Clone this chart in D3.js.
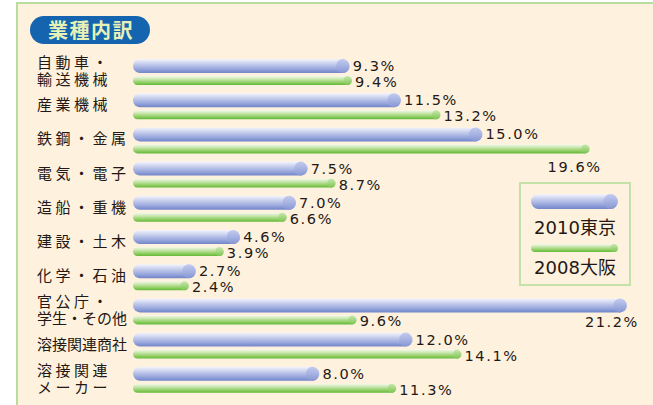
<!DOCTYPE html>
<html>
<head>
<meta charset="utf-8">
<script src="https://cdn.jsdelivr.net/npm/d3@7"></script>
<style>
  body { margin: 0; background: #fff; }
  svg { display: block; }
</style>
</head>
<body>
<div id="chart"></div>
<script>
// データ
const title = "業種内訳";
const categories = ["自動車・\n輸送機械", "産業機械", "鉄鋼・金属", "電気・電子", "造船・重機",
  "建設・土木", "化学・石油", "官公庁・\n学生・その他", "溶接関連商社", "溶接関連\nメーカー"];
const tokyo2010 = [9.3, 11.5, 15.0, 7.5, 7.0, 4.6, 2.7, 21.2, 12.0, 8.0];
const osaka2008 = [9.4, 13.2, 19.6, 8.7, 6.6, 3.9, 2.4, 9.6, 14.1, 11.3];
const seriesNames = ["2010東京", "2008大阪"];

const width = 653, height = 405;
const svg = d3.select("#chart").append("svg")
  .attr("width", width)
  .attr("height", height);

const defs = svg.append("defs");
function vgrad(id, stops) {
  const g = defs.append("linearGradient").attr("id", id)
    .attr("x1", 0).attr("y1", 0).attr("x2", 0).attr("y2", 1);
  stops.forEach(s => g.append("stop").attr("offset", s[0]).attr("stop-color", s[1]));
}
vgrad("blueBar", [[0, "#f4f5fc"], [0.25, "#d3d9f1"], [0.7, "#9aa8dd"], [1, "#7085c9"]]);
vgrad("greenBar", [[0, "#f3f9ea"], [0.35, "#c8e6ad"], [0.75, "#8ccc5e"], [1, "#62b83a"]]);
vgrad("blueCap", [[0, "#c3cbee"], [0.5, "#a6b2e2"], [1, "#8696d3"]]);
vgrad("greenCap", [[0, "#c9e8ae"], [1, "#7cc552"]]);

// 背景パネル
svg.append("rect")
  .attr("x", 17).attr("y", 3)
  .attr("width", width).attr("height", height)
  .attr("fill", "#fef1dd")
  .attr("stroke", "#b9dd9d")
  .attr("stroke-width", 2);

// タイトル
svg.append("rect")
  .attr("x", 30).attr("y", 16)
  .attr("width", 120).attr("height", 28)
  .attr("rx", 14)
  .attr("fill", "#1464b0");
svg.append("text")
  .attr("x", 91).attr("y", 37.5)
  .attr("text-anchor", "middle")
  .attr("font-family", "Noto Sans CJK JP")
  .attr("font-weight", "bold")
  .attr("font-size", "20px")
  .attr("letter-spacing", "1.5px")
  .attr("fill", "#e6f1b6")
  .text(title);

// スケール
const x = d3.scaleLinear().domain([0, 22]).range([133, 133 + 22 * 23.3]);
const y = d3.scaleBand().domain(categories).range([59, 59 + 34.2 * categories.length]);

const blueH = 14, greenH = 9, greenOff = 17;

const rows = svg.append("g").selectAll("g")
  .data(categories.map((c, i) => ({ c, a: tokyo2010[i], b: osaka2008[i] })))
  .join("g")
  .attr("transform", d => `translate(0,${y(d.c)})`);

// 項目名
rows.each(function(d) {
  const lines = d.c.split("\n");
  const t = d3.select(this).append("text")
    .attr("font-family", "Noto Sans CJK JP")
    .attr("font-size", "15px")
    .attr("fill", "#231815");
  lines.forEach((l, k) => {
    t.append("tspan")
      .attr("x", 37)
      .attr("y", lines.length === 1 ? 17 : 9 + k * 17)
      .attr("letter-spacing", l.length <= 5 ? "3.5px" : "0px")
      .text(l);
  });
});

// 棒
function bar(g, v, top, h, fill, cap) {
  const x1 = x(v);
  g.append("rect")
    .attr("x", x(0)).attr("y", top)
    .attr("width", x1 - x(0)).attr("height", h)
    .attr("rx", h / 2)
    .attr("fill", `url(#${fill})`);
  g.append("ellipse")
    .attr("cx", x1 - h / 2).attr("cy", top + h / 2)
    .attr("rx", h / 2 - 0.5).attr("ry", h / 2)
    .attr("fill", `url(#${cap})`);
}
rows.each(function(d) {
  const g = d3.select(this);
  bar(g, d.a, 0, blueH, "blueBar", "blueCap");
  bar(g, d.b, greenOff, greenH, "greenBar", "greenCap");
});

// 数値ラベル
function valLabel(g, v, cy) {
  const t = g.append("text")
    .attr("font-family", "DejaVu Sans")
    .attr("font-size", "14.5px")
    .attr("letter-spacing", "1.6px")
    .attr("fill", "#231815")
    .text(v.toFixed(1) + "%");
  const x1 = x(v);
  if (x1 + 55 > 600) {
    // 右端に収まらない場合は下の段に右揃え
    t.attr("x", x1 + 12).attr("y", cy + 17 + 5).attr("text-anchor", "end");
  } else {
    t.attr("x", x1 + 3).attr("y", cy + 5);
  }
}
rows.each(function(d) {
  const g = d3.select(this);
  valLabel(g, d.a, 7);
  valLabel(g, d.b, 23);
});

// 凡例
const lg = svg.append("g").attr("transform", "translate(520,183)");
lg.append("rect")
  .attr("width", 110).attr("height", 102)
  .attr("fill", "none")
  .attr("stroke", "#c4e2a8")
  .attr("stroke-width", 2);
const lx = d3.scaleLinear().domain([0, 1]).range([11, 98]);
const legendItems = lg.selectAll("g")
  .data(seriesNames)
  .join("g")
  .attr("transform", (d, i) => `translate(0,${i === 0 ? 11 : 61})`);
legendItems.each(function(d, i) {
  const g = d3.select(this);
  const h = i === 0 ? 15 : 8;
  g.append("rect")
    .attr("x", lx(0)).attr("y", 0)
    .attr("width", lx(1) - lx(0)).attr("height", h)
    .attr("rx", h / 2)
    .attr("fill", i === 0 ? "url(#blueBar)" : "url(#greenBar)");
  g.append("ellipse")
    .attr("cx", lx(1) - h / 2).attr("cy", h / 2)
    .attr("rx", h / 2 - 0.5).attr("ry", h / 2)
    .attr("fill", i === 0 ? "url(#blueCap)" : "url(#greenCap)");
  g.append("text")
    .attr("x", 55).attr("y", i === 0 ? 40 : 30)
    .attr("text-anchor", "middle")
    .attr("font-family", "DejaVu Sans, Noto Sans CJK JP")
    .attr("font-size", "18px")
    .attr("fill", "#231815")
    .text(d);
});
</script>
</body>
</html>
